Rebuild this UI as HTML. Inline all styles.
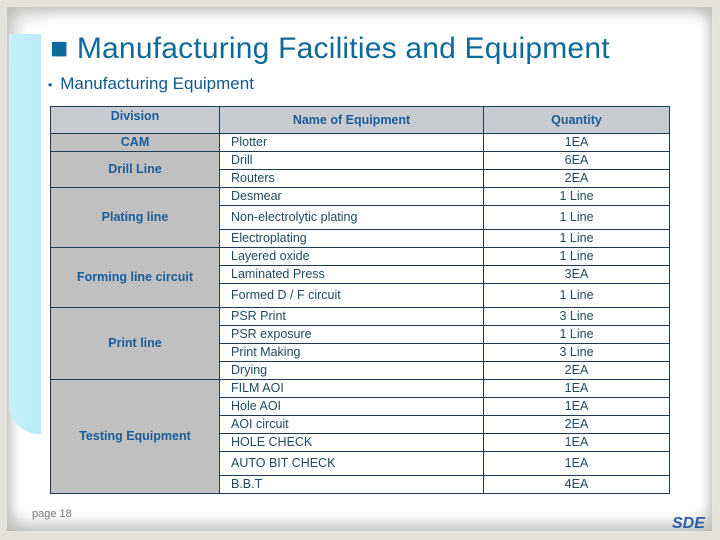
<!DOCTYPE html>
<html><head><meta charset="utf-8"><style>
body{margin:0;width:720px;height:540px;background:#e4e2da;position:relative;overflow:hidden;font-family:"Liberation Sans",sans-serif}
.panel{position:absolute;left:7px;top:7px;width:705px;height:524px;background:#fff;box-shadow:inset 0 0 18px 6px #b8b8b4}
.inner{position:absolute;left:22px;top:24px;width:678px;height:484px;background:#fff;border-radius:40px 0 0 0;box-shadow:0 0 12px 6px #fff}
.tab{position:absolute;left:9px;top:34px;width:32px;height:400px;background:linear-gradient(90deg,#c8f0fa,#b8ecf8);border-radius:0 0 0 30px/0 0 0 30px}
.title{position:absolute;left:50px;top:32px;font-size:30px;color:#0e6a9a;letter-spacing:0.2px}
.sub{position:absolute;left:48px;top:74px;font-size:17px;color:#0e5a8a}
.sub span{font-size:12px;margin-right:8px}
table{position:absolute;left:50px;top:106px;border-collapse:collapse;width:620px}
td{border:1px solid #1f3a55;font-size:12.5px;color:#1f4a60;padding:0;height:17px;line-height:17px}
.h{background:#c8ccd0;color:#1a5c98;font-weight:bold;text-align:center;height:26px}
.d{background:#c0c0c0;color:#1a5c98;font-weight:bold;text-align:center;width:168px}
.n{padding-left:11px;width:252px}
.q{text-align:center}
.t{height:23px}
.page{position:absolute;left:32px;top:508px;font-size:11px;color:#777}
.logo{position:absolute;left:672px;top:515px;font-size:16px;font-weight:bold;color:#2a5fa8;font-style:italic}
</style></head><body>
<div class="panel"></div>
<div class="inner"></div>
<div class="tab"></div>
<div class="title">■ Manufacturing Facilities and Equipment</div>
<div class="sub"><span>•</span>Manufacturing Equipment</div>
<table>
<tr><td class="h" style="vertical-align:top;line-height:18px">Division</td><td class="h">Name of Equipment</td><td class="h">Quantity</td></tr>
<tr><td class="d">CAM</td><td class="n">Plotter</td><td class="q">1EA</td></tr>
<tr><td class="d" rowspan="2">Drill Line</td><td class="n">Drill</td><td class="q">6EA</td></tr>
<tr><td class="n">Routers</td><td class="q">2EA</td></tr>
<tr><td class="d" rowspan="3">Plating line</td><td class="n">Desmear</td><td class="q">1 Line</td></tr>
<tr><td class="n t">Non-electrolytic plating</td><td class="q t">1 Line</td></tr>
<tr><td class="n">Electroplating</td><td class="q">1 Line</td></tr>
<tr><td class="d" rowspan="3">Forming line circuit</td><td class="n">Layered oxide</td><td class="q">1 Line</td></tr>
<tr><td class="n">Laminated Press</td><td class="q">3EA</td></tr>
<tr><td class="n t">Formed D / F circuit</td><td class="q t">1 Line</td></tr>
<tr><td class="d" rowspan="4">Print line</td><td class="n">PSR Print</td><td class="q">3 Line</td></tr>
<tr><td class="n">PSR exposure</td><td class="q">1 Line</td></tr>
<tr><td class="n">Print Making</td><td class="q">3 Line</td></tr>
<tr><td class="n">Drying</td><td class="q">2EA</td></tr>
<tr><td class="d" rowspan="6">Testing Equipment</td><td class="n">FILM AOI</td><td class="q">1EA</td></tr>
<tr><td class="n">Hole AOI</td><td class="q">1EA</td></tr>
<tr><td class="n">AOI circuit</td><td class="q">2EA</td></tr>
<tr><td class="n">HOLE CHECK</td><td class="q">1EA</td></tr>
<tr><td class="n t">AUTO BIT CHECK</td><td class="q t">1EA</td></tr>
<tr><td class="n">B.B.T</td><td class="q">4EA</td></tr>
</table>
<div class="page">page 18</div>
<div class="logo">SDE</div>
</body></html>
